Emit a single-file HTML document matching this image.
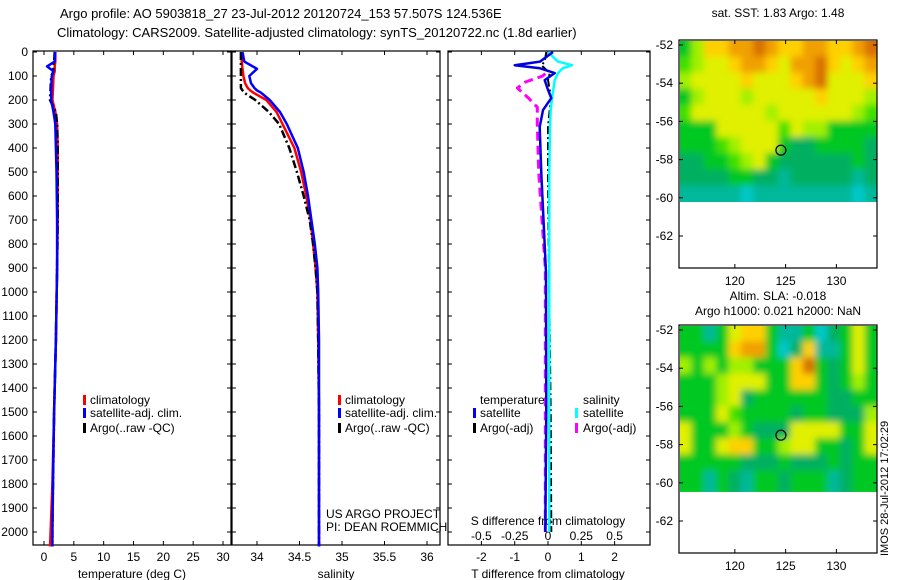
<!DOCTYPE html>
<html><head><meta charset="utf-8">
<style>
html,body{margin:0;padding:0;background:#fff;}
svg{display:block;font-family:"Liberation Sans",sans-serif;}
</style></head>
<body>
<svg id="fig" width="900" height="580" viewBox="0 0 900 580">
<defs>
<filter id="blur" x="-5%" y="-5%" width="110%" height="110%"><feGaussianBlur stdDeviation="3.5"/></filter>
<clipPath id="clip1"><rect x="680" y="41" width="197" height="161"/></clipPath>
<clipPath id="clip2"><rect x="680" y="326" width="197" height="166"/></clipPath>
</defs>
<rect width="900" height="580" fill="#fff"/>
<text x="60" y="18" font-size="13">Argo profile: AO 5903818_27 23-Jul-2012 20120724_153 57.507S 124.536E</text>
<text x="57" y="37" font-size="13">Climatology: CARS2009. Satellite-adjusted climatology: synTS_20120722.nc (1.8d earlier)</text>
<text x="778" y="17" font-size="12" text-anchor="middle">sat. SST: 1.83 Argo: 1.48</text>
<text x="778" y="300" font-size="12" text-anchor="middle">Altim. SLA: -0.018</text>
<text x="778" y="315" font-size="12" text-anchor="middle">Argo h1000: 0.021 h2000: NaN</text>
<text transform="translate(888,556) rotate(-90)" font-size="11">IMOS 28-Jul-2012 17:02:29</text>
<g id="m1" clip-path="url(#clip1)"><g id="m1c" filter="url(#blur)"></g></g>
<g id="m2" clip-path="url(#clip2)"><g id="m2c" filter="url(#blur)"></g></g>
<g id="g"></g>
</svg>
<script>
const depthS=[0,40,70,100,130,150,160,170,200,250,300,400,500,600,700,800,900,1000,1200,1500,2000,2060];
const salClim=[33.82,33.82,33.83,33.84,33.86,33.89,33.92,33.96,34.11,34.23,34.30,34.44,34.52,34.58,34.63,34.66,34.69,34.71,34.72,34.73,34.73,34.73];
const salSat=[33.83,33.85,34.00,33.91,33.93,33.97,34.00,34.05,34.15,34.27,34.35,34.48,34.55,34.60,34.64,34.68,34.71,34.72,34.73,34.73,34.73,34.73];
const salArgo=[33.81,33.81,33.81,33.81,33.81,33.81,33.83,33.85,33.98,34.14,34.26,34.38,34.47,34.55,34.62,34.66,34.69,34.71,34.72,34.73,34.73,34.73];
const depthT=[0,40,60,80,100,150,200,250,300,400,500,700,900,1200,1500,1800,2000,2060];
const tempClim=[1.9,1.9,1.8,1.8,1.6,1.5,1.4,1.9,2.2,2.3,2.3,2.3,2.2,2.0,1.7,1.4,1.1,1.0];
const tempSat=[1.9,1.8,0.5,1.6,1.3,1.2,1.2,1.6,1.9,2.0,2.1,2.2,2.2,2.0,1.7,1.5,1.4,1.4];
const tempArgo=[1.8,1.7,1.5,1.6,1.2,1.1,1.0,2.0,2.2,2.3,2.3,2.3,2.2,2.0,1.7,1.5,1.4,1.4];
const depthD=[0,40,55,68,88,117,158,192,242,312,505,920,1500,2000];
const tDiffSat=[0.15,-0.24,-1.0,-0.24,0.2,-0.1,0.0,0.1,-0.15,-0.25,-0.2,-0.06,-0.05,-0.08];
const tDiffArgo=[-0.05,-0.1,-0.2,-0.1,0.05,0.0,0.05,0.1,0.05,0.0,0.0,0.03,0.08,0.1];
const sDiffSat=[0,0.075,0.18,0.11,0.075,0.05,0.04,0.03,0.02,0.015,0.01,0.01,0.01,0.01];
const depthSA=[90,100,125,150,190,230,300,500,900,1500,2000];
const sDiffArgo=[-0.02,-0.04,-0.17,-0.23,-0.15,-0.08,-0.08,-0.07,-0.02,-0.02,-0.02];
const depthTicks=[0,100,200,300,400,500,600,700,800,900,1000,1100,1200,1300,1400,1500,1600,1700,1800,1900,2000];
const tempTicks=[0,5,10,15,20,25,30];
const salTicks=[34,34.5,35,35.5,36];
const salTickLabels=["34","34.5","35","35.5","36"];
const tDiffTicks=[-2,-1,0,1,2];
const sDiffTicks=[-0.5,-0.25,0,0.25,0.5];
const sstRows=["3577889877887789","4566788768897678","5666676667896667","3566656666676665","4666666566666654","3336666646553333","3334566632233332","2233456322222232","2222332212222212","1111101111111101"];
const slaRows=["3313677311302363","3333788302711363","5353553337932363","3335666337732353","3335623333332233","3336433332332225","6333532226666336","6336773356633236","3333322232223233","3313213323331233"];
const palette=["#00c8c8","#00b89a","#00b060","#00c820","#40e000","#a0f000","#e0f000","#ffd000","#f0a000","#d87000"];
const lonTicks=[120,125,130];
const latTicks=[-52,-54,-56,-58,-60,-62];

const NS="http://www.w3.org/2000/svg";
const G=document.getElementById('g');
function mk(tag,attrs,parent){const e=document.createElementNS(NS,tag);for(const k in attrs)e.setAttribute(k,attrs[k]);(parent||G).appendChild(e);return e;}
const Y1=545;
const yD=d=>52+d*0.24;
function xLin(v0,p0,v1,p1){return v=>p0+(v-v0)*(p1-p0)/(v1-v0);}
const xT=xLin(0,44,30,223);
const xS=xLin(34,257,35,342);
const xTD=xLin(0,548,1,581.3);
const xSD=v=>xTD(v*4);

function panel(x0,x1,name){
  const r=mk('rect',{x:x0,y:51,width:x1-x0,height:Y1-51,fill:'none',stroke:'#000','stroke-width':1.2});
  
  
  depthTicks.forEach(d=>{
    const t1=mk('line',{x1:x0,x2:x0+4,y1:yD(d),y2:yD(d),stroke:'#000'});
    
    
    const t2=mk('line',{x1:x1-4,x2:x1,y1:yD(d),y2:yD(d),stroke:'#000'});
    
    
  });
}
function xticks(ticks,labels,sc,name,ly){
  ticks.forEach((v,i)=>{
    const x=sc(v);
    const a=mk('line',{x1:x,x2:x,y1:51,y2:55,stroke:'#000'});
    
    
    const b=mk('line',{x1:x,x2:x,y1:Y1-4,y2:Y1,stroke:'#000'});
    
    
    const t=mk('text',{x:x,y:ly,'font-size':12,'text-anchor':'middle'});
    t.textContent=labels[i];
    
    
  });
}
function line(ds,vs,sc,color,w,dash,name){
  const pts=ds.map((d,i)=>sc(vs[i]).toFixed(1)+','+yD(d).toFixed(1)).join(' ');
  const p=mk('polyline',{points:pts,fill:'none',stroke:color,'stroke-width':w,'stroke-linejoin':'round'});
  if(dash)p.setAttribute('stroke-dasharray',dash);
  
  
}
function txt(x,y,s,size,name,anchor){
  const t=mk('text',{x:x,y:y,'font-size':size,'text-anchor':anchor||'start'});
  t.textContent=s;
  
  
}
function legMark(x,y,color,name){
  const r=mk('rect',{x:x,y:y-9,width:3,height:10,fill:color});
  
  
}

panel(33,231,'temperature-panel');
depthTicks.forEach(d=>txt(28,yD(d)+4,String(d),12,'depth-tick-label','end'));
xticks(tempTicks,tempTicks.map(String),xT,'temperature-x',561);
txt(132,578,'temperature (deg C)',12,'temperature-axis-title','middle');
line(depthT,tempClim,xT,'#f00',2.5,null,'temperature-climatology-line');
line(depthT,tempArgo,xT,'#000',2.5,'8,3,2,3','temperature-argo-line');
line(depthT,tempSat,xT,'#00f',2.5,null,'temperature-satellite-line');
legMark(83,404,'#f00','legend-climatology-marker');txt(90,404,'climatology',12,'legend-climatology');
legMark(83,417,'#00f','legend-satellite-marker');txt(90,417,'satellite-adj. clim.',12,'legend-satellite');
legMark(83,432,'#000','legend-argo-marker');txt(90,432,'Argo(..raw -QC)',12,'legend-argo');

panel(232,440,'salinity-panel');
xticks(salTicks,salTickLabels,xS,'salinity-x',561);
txt(336,578,'salinity',12,'salinity-axis-title','middle');
line(depthS,salClim,xS,'#f00',2.5,null,'salinity-climatology-line');
line(depthS,salArgo,xS,'#000',2.5,'8,3,2,3','salinity-argo-line');
line(depthS,salSat,xS,'#00f',2.5,null,'salinity-satellite-line');
legMark(338,404,'#f00','legend2-climatology-marker');txt(345,404,'climatology',12,'legend2-climatology');
legMark(338,417,'#00f','legend2-satellite-marker');txt(345,417,'satellite-adj. clim.',12,'legend2-satellite');
legMark(338,432,'#000','legend2-argo-marker');txt(345,432,'Argo(..raw -QC)',12,'legend2-argo');
txt(326,518,'US ARGO PROJECT',12,'project-label');
txt(326,531,'PI: DEAN ROEMMICH',12,'pi-label');

panel(448,650,'difference-panel');
xticks(tDiffTicks,tDiffTicks.map(String),xTD,'tdiff-x',561);
sDiffTicks.forEach(v=>txt(xSD(v),540,String(v),12,'sdiff-tick-label','middle'));
txt(548,525,'S difference from climatology',12,'sdiff-axis-title','middle');
txt(548,578,'T difference from climatology',12,'tdiff-axis-title','middle');
line(depthSA,sDiffArgo,xSD,'#f0f',3,'9,5','sdiff-argo-line');
line(depthD,tDiffArgo,xTD,'#000',2,'8,3,2,3','tdiff-argo-line');
line(depthD,sDiffSat,xSD,'#0ff',2.5,null,'sdiff-satellite-line');
line(depthD,tDiffSat,xTD,'#00d',2.5,null,'tdiff-satellite-line');
txt(480,404,'temperature',12,'legend3-temperature-header');
legMark(473,417,'#00f','legend3-tsat-marker');txt(480,417,'satellite',12,'legend3-tsat');
legMark(473,432,'#000','legend3-targo-marker');txt(480,432,'Argo(-adj)',12,'legend3-targo');
txt(583,404,'salinity',12,'legend3-salinity-header');
legMark(575,417,'#0ff','legend3-ssat-marker');txt(583,417,'satellite',12,'legend3-ssat');
legMark(575,432,'#f0f','legend3-sargo-marker');txt(583,432,'Argo(-adj)',12,'legend3-sargo');

function map(rows,top,bottom,name,cellParent){
  const lonS=xLin(114.5,679,134,877);
  const latS=v=>top+5+(-52-v)*19.1;
  const nr=rows.length,nc=rows[0].length;
  const lat0=-51.75,lat1=-60.2,lon0=114.5,lon1=134;
  rows.forEach((row,i)=>{
    for(let j=0;j<nc;j++){
      let xa=lonS(lon0+(lon1-lon0)*j/nc),xb=lonS(lon0+(lon1-lon0)*(j+1)/nc);
      let ya=latS(lat0+(lat1-lat0)*i/nr),yb=latS(lat0+(lat1-lat0)*(i+1)/nr);
      if(j===0)xa-=10; if(j===nc-1)xb+=10; if(i===0)ya-=10; if(i===nr-1)yb+=10;
      const c=mk('rect',{x:xa,y:ya,width:xb-xa+0.5,height:yb-ya+0.5,fill:palette[+row[j]]},cellParent);
      
      
    }
  });
  const f=mk('rect',{x:679,y:top,width:198,height:bottom-top,fill:'none',stroke:'#000','stroke-width':1.2});
  
  
  latTicks.forEach(v=>{
    const y=latS(v);
    const a=mk('line',{x1:679,x2:683,y1:y,y2:y,stroke:'#000'});
    
    
    const b=mk('line',{x1:873,x2:877,y1:y,y2:y,stroke:'#000'});
    
    
    txt(673,y+4,String(v),12,name+'-lat-label','end');
  });
  lonTicks.forEach(v=>{
    const x=lonS(v);
    const a=mk('line',{x1:x,x2:x,y1:top,y2:top+4,stroke:'#000'});
    
    
    const b=mk('line',{x1:x,x2:x,y1:bottom-4,y2:bottom,stroke:'#000'});
    
    
    txt(x,bottom+17,String(v),12,name+'-lon-label','middle');
  });
  const m=mk('circle',{cx:lonS(124.536),cy:latS(-57.507),r:5,fill:'none',stroke:'#000','stroke-width':1.2});
  
  
}
map(sstRows,40,268,'sst-map',document.getElementById('m1c'));
map(slaRows,325,553,'sla-map',document.getElementById('m2c'));
</script>
</body></html>
